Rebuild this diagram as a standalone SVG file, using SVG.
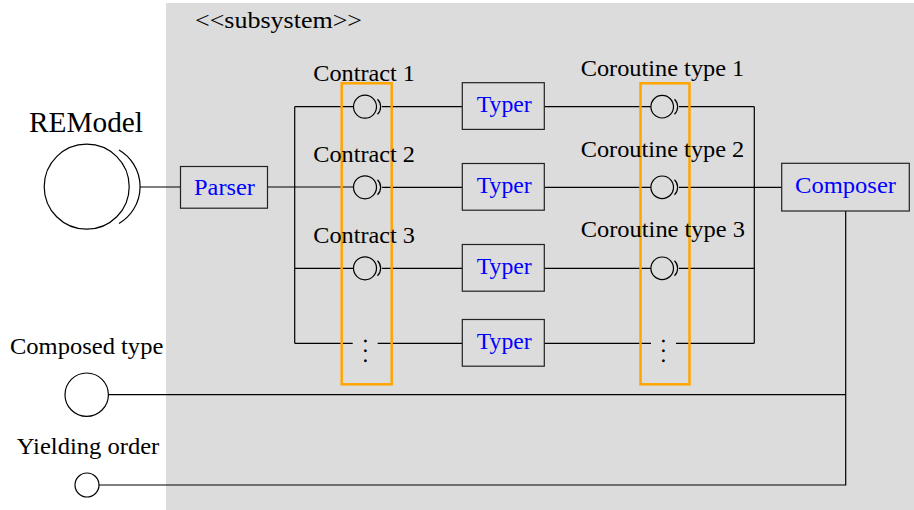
<svg xmlns="http://www.w3.org/2000/svg" width="914" height="510" viewBox="0 0 914 510">
<style>
.t{font-family:"Liberation Serif","Times New Roman",serif;font-size:23px;fill:#000}
.b{font-family:"Liberation Serif","Times New Roman",serif;font-size:23.5px;fill:#0000FF}
.box{fill:#DCDCDC;stroke:#222;stroke-width:1.2}
.ln{fill:none;stroke:#000;stroke-width:1.2}
.circ{fill:none;stroke:#000;stroke-width:1.2}
.grp{fill:none;stroke:#FFA500;stroke-width:2.5}
.dots{font-family:"Liberation Serif","Times New Roman",serif;font-size:24px;letter-spacing:3.85px;fill:#000}
</style>
<rect id="subsystem" x="166" y="3" width="748" height="507" fill="#DCDCDC"/>
<text class="t" x="195" y="28" textLength="167" lengthAdjust="spacingAndGlyphs">&lt;&lt;subsystem&gt;&gt;</text>

<g id="connectors">
  <line class="ln" x1="140" y1="187" x2="181" y2="187"/>
  <line class="ln" x1="267.5" y1="187" x2="353.5" y2="187"/>
  <line class="ln" x1="294.7" y1="106.7" x2="294.7" y2="343.3"/>
  <line class="ln" x1="294.7" y1="106.7" x2="353.5" y2="106.7"/>
  <line class="ln" x1="294.7" y1="268.3" x2="353.5" y2="268.3"/>
  <line class="ln" x1="294.7" y1="343.3" x2="352.7" y2="343.3"/>
  <line class="ln" x1="382" y1="106.7" x2="462.3" y2="106.7"/>
  <line class="ln" x1="382" y1="187.3" x2="462.3" y2="187.3"/>
  <line class="ln" x1="382" y1="268.3" x2="462.3" y2="268.3"/>
  <line class="ln" x1="377.7" y1="343.3" x2="462.3" y2="343.3"/>
  <line class="ln" x1="544.3" y1="106.7" x2="650.7" y2="106.7"/>
  <line class="ln" x1="544.3" y1="187.3" x2="650.7" y2="187.3"/>
  <line class="ln" x1="544.3" y1="268.3" x2="650.7" y2="268.3"/>
  <line class="ln" x1="544.3" y1="343.3" x2="651" y2="343.3"/>
  <line class="ln" x1="679" y1="106.7" x2="754.3" y2="106.7"/>
  <line class="ln" x1="679" y1="187.3" x2="781.7" y2="187.3"/>
  <line class="ln" x1="679" y1="268.3" x2="754.3" y2="268.3"/>
  <line class="ln" x1="676" y1="343.3" x2="754.3" y2="343.3"/>
  <line class="ln" x1="754.3" y1="106.7" x2="754.3" y2="343.3"/>
  <polyline class="ln" points="845.7,211 845.7,485 99,485"/>
  <line class="ln" x1="108.4" y1="394.7" x2="845.7" y2="394.7"/>
</g>

<g id="REModel">
  <text class="t" x="29" y="131.5" textLength="114" lengthAdjust="spacingAndGlyphs" style="font-size:29px">REModel</text>
  <circle class="circ" cx="86.7" cy="186.7" r="42.5"/>
  <path class="ln" d="M119,150 A42.5,42.5 0 0 1 119,223.4"/>
</g>

<g id="Parser">
  <rect class="box" x="180.5" y="166.5" width="87" height="41.7"/>
  <text class="b" x="194" y="195" textLength="61" lengthAdjust="spacingAndGlyphs">Parser</text>
</g>

<g id="contracts">
  <rect class="grp" x="341.7" y="83.3" width="50" height="301"/>
  <g id="contract1">
    <text class="t" x="313.3" y="80.7" textLength="101.7" lengthAdjust="spacingAndGlyphs">Contract 1</text>
    <circle class="circ" cx="365" cy="106.7" r="11.5"/>
    <path class="ln" d="M377.5,99.2 A10.5,10.5 0 0 1 377.5,114.2"/>
  </g>
  <g id="contract2">
    <text class="t" x="313.3" y="161.5" textLength="101.7" lengthAdjust="spacingAndGlyphs">Contract 2</text>
    <circle class="circ" cx="365" cy="187.3" r="11.5"/>
    <path class="ln" d="M377.5,179.8 A10.5,10.5 0 0 1 377.5,194.8"/>
  </g>
  <g id="contract3">
    <text class="t" x="313.3" y="242.7" textLength="101.7" lengthAdjust="spacingAndGlyphs">Contract 3</text>
    <circle class="circ" cx="365" cy="268.3" r="11.5"/>
    <path class="ln" d="M377.5,260.8 A10.5,10.5 0 0 1 377.5,275.8"/>
  </g>
  <text class="dots" x="364" y="338" transform="rotate(90 364 338)">...</text>
</g>

<g id="typer1"><rect class="box" x="462.3" y="82.7" width="82" height="46.7"/><text class="b" x="476.7" y="111.7" textLength="55" lengthAdjust="spacingAndGlyphs">Typer</text></g>
<g id="typer2"><rect class="box" x="462.3" y="163.5" width="82" height="46.7"/><text class="b" x="476.7" y="192.5" textLength="55" lengthAdjust="spacingAndGlyphs">Typer</text></g>
<g id="typer3"><rect class="box" x="462.3" y="244.5" width="82" height="46.7"/><text class="b" x="476.7" y="273.5" textLength="55" lengthAdjust="spacingAndGlyphs">Typer</text></g>
<g id="typer4"><rect class="box" x="462.3" y="319.5" width="82" height="46.7"/><text class="b" x="476.7" y="348.5" textLength="55" lengthAdjust="spacingAndGlyphs">Typer</text></g>

<g id="coroutines">
  <rect class="grp" x="640.5" y="83.3" width="49" height="301"/>
  <g id="coroutine1">
    <text class="t" x="580.7" y="75.7" textLength="163.6" lengthAdjust="spacingAndGlyphs">Coroutine type 1</text>
    <circle class="circ" cx="662.2" cy="106.7" r="11.3"/>
    <path class="ln" d="M674.5,99.2 A10.5,10.5 0 0 1 674.5,114.2"/>
  </g>
  <g id="coroutine2">
    <text class="t" x="580.7" y="156.7" textLength="163.6" lengthAdjust="spacingAndGlyphs">Coroutine type 2</text>
    <circle class="circ" cx="662.2" cy="187.3" r="11.3"/>
    <path class="ln" d="M674.5,179.8 A10.5,10.5 0 0 1 674.5,194.8"/>
  </g>
  <g id="coroutine3">
    <text class="t" x="580.7" y="237.3" textLength="164.3" lengthAdjust="spacingAndGlyphs">Coroutine type 3</text>
    <circle class="circ" cx="662.2" cy="268.3" r="11.3"/>
    <path class="ln" d="M674.5,260.8 A10.5,10.5 0 0 1 674.5,275.8"/>
  </g>
  <text class="dots" x="662" y="338" transform="rotate(90 662 338)">...</text>
</g>

<g id="Composer">
  <rect class="box" x="781.7" y="163.3" width="127.6" height="47.7"/>
  <text class="b" x="795" y="192.7" textLength="101" lengthAdjust="spacingAndGlyphs">Composer</text>
</g>

<g id="ComposedType">
  <text class="t" x="10" y="354" textLength="153.3" lengthAdjust="spacingAndGlyphs">Composed type</text>
  <circle class="circ" cx="86.7" cy="394.7" r="21.7"/>
</g>

<g id="YieldingOrder">
  <text class="t" x="16.7" y="454.3" textLength="142.6" lengthAdjust="spacingAndGlyphs">Yielding order</text>
  <circle class="circ" cx="87" cy="485" r="12"/>
</g>
</svg>
